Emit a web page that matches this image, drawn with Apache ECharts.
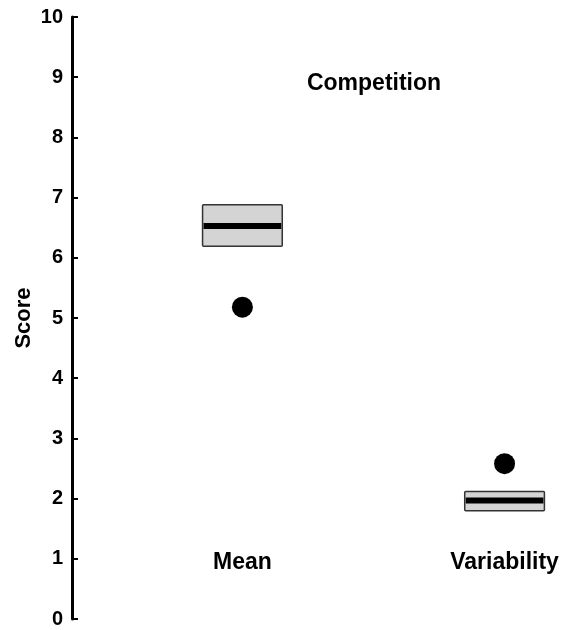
<!DOCTYPE html>
<html><head><meta charset="utf-8">
<script src="https://cdn.jsdelivr.net/npm/echarts@6/dist/echarts.min.js"></script>
<style>html,body{margin:0;padding:0;background:#fff}#c{width:564px;height:630px}</style>
</head><body><div id="c"></div>
<script>
var categories = ['Mean', 'Variability'];
var categoryPos = [1, 2];
var boxLow = [6.19, 1.80];
var boxMedian = [6.53, 1.97];
var boxHigh = [6.88, 2.12];
var dotValues = [5.18, 2.58];
var labelY = [0.94, 0.94];
var yTicks = [0, 1, 2, 3, 4, 5, 6, 7, 8, 9, 10];
var titleText = 'Competition';
var yName = 'Score';

var FONT = '"Liberation Sans", Arial, sans-serif';
var chart = echarts.init(document.getElementById('c'));
var boxData = categoryPos.map(function (x, i) { return [x, boxLow[i], boxMedian[i], boxHigh[i]]; });
var half = 0.152;
chart.setOption({
  backgroundColor: '#ffffff',
  animation: false,
  title: { text: titleText, left: 369, top: 67, textAlign: 'center',
    textStyle: { fontFamily: FONT, fontWeight: 'bold', fontSize: 23, color: '#000' } },
  grid: { left: 72, right: 7, top: 17, bottom: 11, containLabel: false },
  xAxis: { type: 'value', min: 0.35, max: 2.2, show: false },
  yAxis: {
    type: 'value', min: yTicks[0], max: yTicks[yTicks.length - 1], interval: 1,
    name: yName, nameLocation: 'middle', nameGap: 37, nameRotate: 90, nameMoveOverlap: false,
    nameTextStyle: { fontFamily: FONT, fontWeight: 'bold', fontSize: 22, color: '#000' },
    axisLine: { show: true, lineStyle: { color: '#000', width: 3 } },
    axisTick: { show: true, inside: true, length: 6, lineStyle: { color: '#000', width: 2 } },
    axisLabel: { fontFamily: FONT, fontWeight: 'bold', fontSize: 20, color: '#000', margin: 9 },
    splitLine: { show: false }
  },
  series: [
    {
      type: 'custom',
      data: boxData,
      renderItem: function (params, api) {
        var x = api.value(0);
        var p1 = api.coord([x - half, api.value(3)]);
        var p2 = api.coord([x + half, api.value(1)]);
        var m1 = api.coord([x - half, api.value(2)]);
        var m2 = api.coord([x + half, api.value(2)]);
        return { type: 'group', children: [
          { type: 'rect', shape: { x: p1[0], y: p1[1], width: p2[0] - p1[0], height: p2[1] - p1[1], r: 1 },
            style: { fill: '#d4d4d4', stroke: '#333', lineWidth: 1.5 } },
          { type: 'line', shape: { x1: m1[0] + 1, y1: m1[1], x2: m2[0] - 1, y2: m2[1] },
            style: { stroke: '#000', lineWidth: 6 } }
        ] };
      },
      encode: { x: 0, y: [1, 2, 3] }
    },
    {
      type: 'scatter', symbol: 'circle', symbolSize: 21,
      itemStyle: { color: '#000', opacity: 1 },
      data: categoryPos.map(function (x, i) { return [x, dotValues[i]]; })
    },
    {
      type: 'scatter', symbolSize: 1, silent: true,
      itemStyle: { color: '#fff', opacity: 1 },
      label: { show: true, position: 'inside', formatter: function (p) { return categories[p.dataIndex]; },
        fontFamily: FONT, fontWeight: 'bold', fontSize: 23, color: '#000', opacity: 1 },
      data: categoryPos.map(function (x, i) { return [x, labelY[i]]; })
    }
  ]
});
</script></body></html>
